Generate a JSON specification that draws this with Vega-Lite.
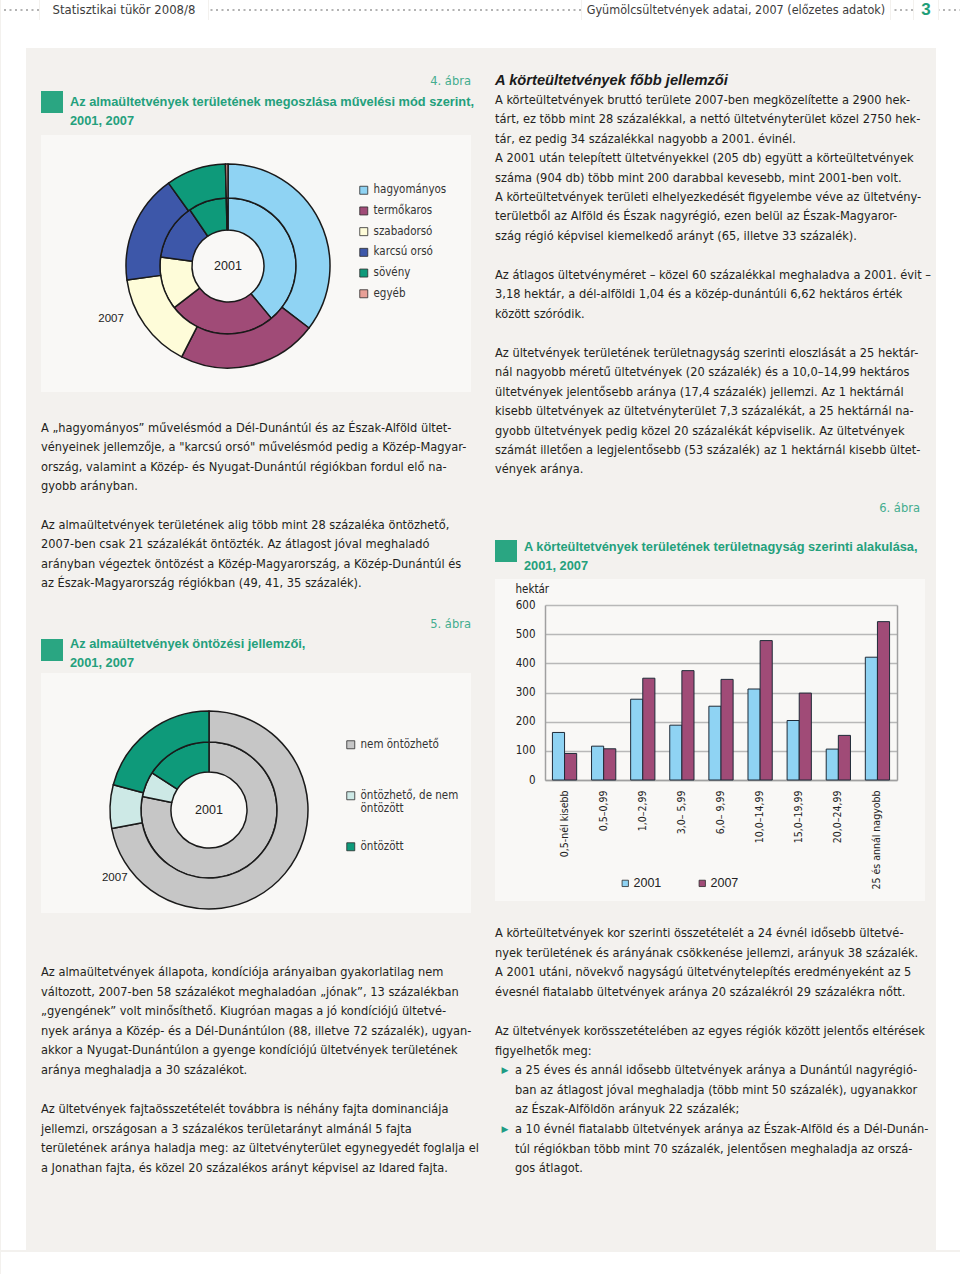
{
"$schema": "https://vega.github.io/schema/vega-lite/v6.json",
"background": "#f3f1ee",
"padding": 0,
"data": {"values": [{}]},
"datasets": {
 "mod": [
  {"year":"2001","mod":"hagyományos","k":1,"pct":39.0},
  {"year":"2001","mod":"termőkaros","k":2,"pct":25.5},
  {"year":"2001","mod":"szabadorsó","k":3,"pct":12.6},
  {"year":"2001","mod":"karcsú orsó","k":4,"pct":13.4},
  {"year":"2001","mod":"sövény","k":5,"pct":9.1},
  {"year":"2001","mod":"egyéb","k":6,"pct":0.4},
  {"year":"2007","mod":"hagyományos","k":1,"pct":35.4},
  {"year":"2007","mod":"termőkaros","k":2,"pct":22.1},
  {"year":"2007","mod":"szabadorsó","k":3,"pct":15.3},
  {"year":"2007","mod":"karcsú orsó","k":4,"pct":17.3},
  {"year":"2007","mod":"sövény","k":5,"pct":9.5},
  {"year":"2007","mod":"egyéb","k":6,"pct":0.4}
 ],
 "irr": [
  {"year":"2001","kat":"nem öntözhető","k":1,"pct":78.2},
  {"year":"2001","kat":"öntözhető, de nem öntözött","k":2,"pct":6.0},
  {"year":"2001","kat":"öntözött","k":3,"pct":15.8},
  {"year":"2007","kat":"nem öntözhető","k":1,"pct":72.0},
  {"year":"2007","kat":"öntözhető, de nem öntözött","k":2,"pct":7.1},
  {"year":"2007","kat":"öntözött","k":3,"pct":20.9}
 ],
 "korte": [
  {"cat":"0,5-nél kisebb","year":"2001","ha":163},
  {"cat":"0,5-nél kisebb","year":"2007","ha":91},
  {"cat":"0,5–0,99","year":"2001","ha":116},
  {"cat":"0,5–0,99","year":"2007","ha":107},
  {"cat":"1,0–2,99","year":"2001","ha":277},
  {"cat":"1,0–2,99","year":"2007","ha":349},
  {"cat":"3,0– 5,99","year":"2001","ha":188},
  {"cat":"3,0– 5,99","year":"2007","ha":375},
  {"cat":"6,0– 9,99","year":"2001","ha":253},
  {"cat":"6,0– 9,99","year":"2007","ha":345},
  {"cat":"10,0–14,99","year":"2001","ha":312},
  {"cat":"10,0–14,99","year":"2007","ha":478},
  {"cat":"15,0–19,99","year":"2001","ha":204},
  {"cat":"15,0–19,99","year":"2007","ha":298},
  {"cat":"20,0–24,99","year":"2001","ha":106},
  {"cat":"20,0–24,99","year":"2007","ha":153},
  {"cat":"25 és annál nagyobb","year":"2001","ha":421},
  {"cat":"25 és annál nagyobb","year":"2007","ha":543}
 ]
},
"config": {"view": {"stroke": null}, "concat": {"spacing": 0}, "text": {"font": "DejaVu Sans Condensed, sans-serif"}},
"resolve": {"scale": {"color": "independent", "theta": "independent"}},
"vconcat": [
 {"hconcat": [
  {"width": 38, "height": 20, "view": {"fill": "#ffffff"}, "mark": {"type": "rule", "color": "#b3b3b3", "strokeWidth": 2, "strokeDash": [2, 3.5]}, "encoding": {"y": {"datum": 0, "type": "quantitative", "scale": {"domain": [-1, 1]}, "axis": null}}},
  {"width": 168, "height": 20, "view": {"fill": "#ffffff"}, "mark": {"type": "text", "fontSize": 13, "color": "#3c3c3c"}, "encoding": {"text": {"value": "Statisztikai tükör 2008/8"}}},
  {"width": 372, "height": 20, "view": {"fill": "#ffffff"}, "mark": {"type": "rule", "color": "#b3b3b3", "strokeWidth": 2, "strokeDash": [2, 3.5]}, "encoding": {"y": {"datum": 0, "type": "quantitative", "scale": {"domain": [-1, 1]}, "axis": null}}},
  {"width": 308, "height": 20, "view": {"fill": "#ffffff"}, "mark": {"type": "text", "fontSize": 12.5, "color": "#3c3c3c"}, "encoding": {"text": {"value": "Gyümölcsültetvények adatai, 2007 (előzetes adatok)"}}},
  {"width": 22, "height": 20, "view": {"fill": "#ffffff"}, "mark": {"type": "rule", "color": "#b3b3b3", "strokeWidth": 2, "strokeDash": [2, 3.5]}, "encoding": {"y": {"datum": 0, "type": "quantitative", "scale": {"domain": [-1, 1]}, "axis": null}}},
  {"width": 24, "height": 20, "view": {"fill": "#ffffff"}, "mark": {"type": "text", "fontSize": 17, "fontWeight": "bold", "font": "Liberation Sans, sans-serif", "color": "#1f9e78"}, "encoding": {"text": {"value": "3"}}},
  {"width": 28, "height": 20, "view": {"fill": "#ffffff"}, "mark": {"type": "rule", "color": "#b3b3b3", "strokeWidth": 2, "strokeDash": [2, 3.5]}, "encoding": {"y": {"datum": 0, "type": "quantitative", "scale": {"domain": [-1, 1]}, "axis": null}}}
 ]},
 {"width": 960, "height": 28, "view": {"fill": "#ffffff"}, "mark": {"type": "point", "size": 0, "opacity": 0, "filled": true}},
 {"hconcat": [
  {"width": 25, "height": 1202, "view": {"fill": "#ffffff"}, "mark": {"type": "point", "size": 0, "opacity": 0, "filled": true}},
  {"width": 15, "height": 1202, "mark": {"type": "point", "size": 0, "opacity": 0, "filled": true}},
  {"vconcat": [
   {"width": 430, "height": 25, "mark": {"type": "point", "size": 0, "opacity": 0, "filled": true}},
   {"width": 430, "height": 16, "mark": {"type": "text", "align": "right", "fontSize": 12.8, "color": "#44ad8e"}, "encoding": {"x": {"datum": 1, "type": "quantitative", "scale": {"domain": [0, 1], "nice": false}, "axis": null}, "text": {"value": "4. ábra"}}},
   {"width": 430, "height": 2, "mark": {"type": "point", "size": 0, "opacity": 0, "filled": true}},
   {"hconcat": [
    {"vconcat": [
     {"width": 22, "height": 22, "view": {"fill": "#2aa682"}, "mark": {"type": "point", "size": 0, "opacity": 0, "filled": true}},
     {"width": 22, "height": 16, "mark": {"type": "point", "size": 0, "opacity": 0, "filled": true}}
    ]},
    {"width": 7, "height": 38, "mark": {"type": "point", "size": 0, "opacity": 0, "filled": true}},
    {"width": 425, "height": 38, "mark": {"type": "text", "align": "left", "baseline": "line-top", "lineBreak": "\n", "lineHeight": 19, "fontSize": 12.8, "fontWeight": "bold", "font": "Liberation Sans, sans-serif", "color": "#24a07c", "dy": 1.5}, "encoding": {"x": {"datum": 0, "type": "quantitative", "scale": {"domain": [0, 1], "nice": false}, "axis": null}, "y": {"datum": 1, "type": "quantitative", "scale": {"domain": [0, 1], "nice": false}, "axis": null}, "text": {"value": "Az almaültetvények területének megoszlása művelési mód szerint,\n2001, 2007"}}}
   ]},
   {"width": 430, "height": 6, "mark": {"type": "point", "size": 0, "opacity": 0, "filled": true}},
   {"hconcat": [
    {"width": 57, "height": 257, "view": {"fill": "#f9f8f6", "stroke": null}, "mark": {"type": "point", "size": 0, "opacity": 0, "filled": true}},
    {"vconcat": [
     {"width": 260, "height": 27, "view": {"fill": "#f9f8f6", "stroke": null}, "mark": {"type": "point", "size": 0, "opacity": 0, "filled": true}},
     {"width": 260, "height": 208, "view": {"fill": "#f9f8f6", "stroke": null}, "data": {"name": "mod"},
      "layer": [
       {"transform": [{"filter": "datum.year == '2001'"}], "mark": {"type": "arc", "outerRadius": 68, "innerRadius": 36, "stroke": "#1a1a1a", "strokeWidth": 1.5, "strokeJoin": "round"},
        "encoding": {"theta": {"field": "pct", "type": "quantitative", "stack": true}, "order": {"field": "k", "type": "quantitative"}, "color": {"field": "mod", "type": "nominal", "scale": {"domain": ["hagyományos","termőkaros","szabadorsó","karcsú orsó","sövény","egyéb"], "range": ["#8fd3f3","#a04b77","#fefcd9","#3d57a9","#0e9a7a","#e8a097"]}, "legend": null}}},
       {"transform": [{"filter": "datum.year == '2007'"}], "mark": {"type": "arc", "outerRadius": 102, "innerRadius": 68, "stroke": "#1a1a1a", "strokeWidth": 1.5, "strokeJoin": "round"},
        "encoding": {"theta": {"field": "pct", "type": "quantitative", "stack": true}, "order": {"field": "k", "type": "quantitative"}, "color": {"field": "mod", "type": "nominal", "scale": {"domain": ["hagyományos","termőkaros","szabadorsó","karcsú orsó","sövény","egyéb"], "range": ["#8fd3f3","#a04b77","#fefcd9","#3d57a9","#0e9a7a","#e8a097"]}, "legend": null}}},
       {"data": {"values": [{"lab": "2001"}]}, "mark": {"type": "text", "fontSize": 12.5, "font": "Liberation Sans, sans-serif", "color": "#222222"}, "encoding": {"text": {"field": "lab"}}},
       {"data": {"values": [{"lab": "2007"}]}, "mark": {"type": "text", "fontSize": 11.5, "font": "Liberation Sans, sans-serif", "color": "#222222", "radius": 128.4, "theta": 4.287}, "encoding": {"text": {"field": "lab"}}}
      ],
      "resolve": {"scale": {"theta": "independent"}}},
     {"width": 260, "height": 22, "view": {"fill": "#f9f8f6", "stroke": null}, "mark": {"type": "point", "size": 0, "opacity": 0, "filled": true}}
    ], "resolve": {"scale": {"color": "independent", "theta": "independent"}}},
    {"width": 113, "height": 257, "view": {"fill": "#f9f8f6", "stroke": null}, "data": {"name": "mod"}, "transform": [{"filter": "datum.year == '2001'"}],
     "mark": {"type": "point", "shape": "square", "filled": true, "size": 0, "opacity": 0},
     "encoding": {"color": {"field": "mod", "type": "nominal", "scale": {"domain": ["hagyományos","termőkaros","szabadorsó","karcsú orsó","sövény","egyéb"], "range": ["#8fd3f3","#a04b77","#fefcd9","#3d57a9","#0e9a7a","#e8a097"]},
      "legend": {"orient": "none", "legendX": 0, "legendY": 49.5, "title": null, "symbolType": "square", "symbolSize": 64, "symbolOpacity": 1, "symbolStrokeColor": "#2b2b2b", "symbolStrokeWidth": 0.8, "labelFont": "DejaVu Sans Condensed, sans-serif", "labelFontSize": 11.5, "labelColor": "#333333", "labelOffset": 4, "rowPadding": 7.7, "padding": 0}}}}
   ], "resolve": {"scale": {"color": "independent", "theta": "independent"}}},
   {"width": 430, "height": 30, "mark": {"type": "point", "size": 0, "opacity": 0, "filled": true}},
   {"width": 454, "height": 96.75, "data": {"values": [{"t": "A „hagyományos” művelésmód a Dél-Dunántúl és az Észak-Alföld ültet-\nvényeinek jellemzője, a \"karcsú orsó\" művelésmód pedig a Közép-Magyar-\nország, valamint a Közép- és Nyugat-Dunántúl régiókban fordul elő na-\ngyobb arányban."}]},
    "mark": {"type": "text", "align": "left", "baseline": "top", "lineBreak": "\n", "lineHeight": 19.35, "fontSize": 12.7, "color": "#231f20"},
    "encoding": {"x": {"datum": 0, "type": "quantitative", "scale": {"domain": [0, 1], "nice": false}, "axis": null}, "y": {"datum": 1, "type": "quantitative", "scale": {"domain": [0, 1], "nice": false}, "axis": null}, "text": {"field": "t"}}},
   {"width": 454, "height": 81.25, "data": {"values": [{"t": "Az almaültetvények területének alig több mint 28 százaléka öntözhető,\n2007-ben csak 21 százalékát öntözték. Az átlagost jóval meghaladó\narányban végeztek öntözést a Közép-Magyarország, a Közép-Dunántúl és\naz Észak-Magyarország régiókban (49, 41, 35 százalék)."}]},
    "mark": {"type": "text", "align": "left", "baseline": "top", "lineBreak": "\n", "lineHeight": 19.35, "fontSize": 12.7, "color": "#231f20"},
    "encoding": {"x": {"datum": 0, "type": "quantitative", "scale": {"domain": [0, 1], "nice": false}, "axis": null}, "y": {"datum": 1, "type": "quantitative", "scale": {"domain": [0, 1], "nice": false}, "axis": null}, "text": {"field": "t"}}},
   {"width": 430, "height": 15, "mark": {"type": "point", "size": 0, "opacity": 0, "filled": true}},
   {"width": 430, "height": 16, "mark": {"type": "text", "align": "right", "fontSize": 12.8, "color": "#44ad8e"}, "encoding": {"x": {"datum": 1, "type": "quantitative", "scale": {"domain": [0, 1], "nice": false}, "axis": null}, "text": {"value": "5. ábra"}}},
   {"width": 430, "height": 3, "mark": {"type": "point", "size": 0, "opacity": 0, "filled": true}},
   {"hconcat": [
    {"vconcat": [
     {"width": 22, "height": 4, "mark": {"type": "point", "size": 0, "opacity": 0, "filled": true}},
     {"width": 22, "height": 22, "view": {"fill": "#2aa682"}, "mark": {"type": "point", "size": 0, "opacity": 0, "filled": true}},
     {"width": 22, "height": 12, "mark": {"type": "point", "size": 0, "opacity": 0, "filled": true}}
    ]},
    {"width": 7, "height": 38, "mark": {"type": "point", "size": 0, "opacity": 0, "filled": true}},
    {"width": 425, "height": 38, "mark": {"type": "text", "align": "left", "baseline": "line-top", "lineBreak": "\n", "lineHeight": 19, "fontSize": 12.8, "fontWeight": "bold", "font": "Liberation Sans, sans-serif", "color": "#24a07c"}, "encoding": {"x": {"datum": 0, "type": "quantitative", "scale": {"domain": [0, 1], "nice": false}, "axis": null}, "y": {"datum": 1, "type": "quantitative", "scale": {"domain": [0, 1], "nice": false}, "axis": null}, "text": {"value": "Az almaültetvények öntözési jellemzői,\n2001, 2007"}}}
   ]},
   {"hconcat": [
    {"width": 58, "height": 240, "view": {"fill": "#f9f8f6", "stroke": null}, "mark": {"type": "point", "size": 0, "opacity": 0, "filled": true}},
    {"vconcat": [
     {"width": 220, "height": 36, "view": {"fill": "#f9f8f6", "stroke": null}, "mark": {"type": "point", "size": 0, "opacity": 0, "filled": true}},
     {"width": 220, "height": 202, "view": {"fill": "#f9f8f6", "stroke": null}, "data": {"name": "irr"},
      "layer": [
       {"transform": [{"filter": "datum.year == '2001'"}], "mark": {"type": "arc", "outerRadius": 68, "innerRadius": 38, "stroke": "#1a1a1a", "strokeWidth": 1.5, "strokeJoin": "round"},
        "encoding": {"theta": {"field": "pct", "type": "quantitative", "stack": true}, "order": {"field": "k", "type": "quantitative"}, "color": {"field": "kat", "type": "nominal", "scale": {"domain": ["nem öntözhető","öntözhető, de nem öntözött","öntözött"], "range": ["#c6c6c6","#cde9e6","#0e9a7a"]}, "legend": null}}},
       {"transform": [{"filter": "datum.year == '2007'"}], "mark": {"type": "arc", "outerRadius": 99, "innerRadius": 68, "stroke": "#1a1a1a", "strokeWidth": 1.5, "strokeJoin": "round"},
        "encoding": {"theta": {"field": "pct", "type": "quantitative", "stack": true}, "order": {"field": "k", "type": "quantitative"}, "color": {"field": "kat", "type": "nominal", "scale": {"domain": ["nem öntözhető","öntözhető, de nem öntözött","öntözött"], "range": ["#c6c6c6","#cde9e6","#0e9a7a"]}, "legend": null}}},
       {"data": {"values": [{"lab": "2001"}]}, "mark": {"type": "text", "fontSize": 12.5, "font": "Liberation Sans, sans-serif", "color": "#222222"}, "encoding": {"text": {"field": "lab"}}},
       {"data": {"values": [{"lab": "2007"}]}, "mark": {"type": "text", "fontSize": 11.5, "font": "Liberation Sans, sans-serif", "color": "#222222", "radius": 116, "theta": 4.09}, "encoding": {"text": {"field": "lab"}}}
      ],
      "resolve": {"scale": {"theta": "independent"}}},
     {"width": 220, "height": 2, "view": {"fill": "#f9f8f6", "stroke": null}, "mark": {"type": "point", "size": 0, "opacity": 0, "filled": true}}
    ], "resolve": {"scale": {"color": "independent", "theta": "independent"}}},
    {"width": 152, "height": 240, "view": {"fill": "#f9f8f6", "stroke": null}, "data": {"name": "irr"}, "transform": [{"filter": "datum.year == '2001'"}],
     "mark": {"type": "point", "shape": "square", "filled": true, "size": 0, "opacity": 0},
     "encoding": {"color": {"field": "kat", "type": "nominal", "scale": {"domain": ["nem öntözhető","öntözhető, de nem öntözött","öntözött"], "range": ["#c6c6c6","#cde9e6","#0e9a7a"]},
      "legend": {"orient": "none", "legendX": 26, "legendY": 66, "title": null, "symbolType": "square", "symbolSize": 64, "symbolOpacity": 1, "symbolStrokeColor": "#2b2b2b", "symbolStrokeWidth": 0.8, "labelFont": "DejaVu Sans Condensed, sans-serif", "labelFontSize": 11.5, "labelColor": "#333333", "labelOffset": 4, "rowPadding": 25, "padding": 0, "labelExpr": "datum.label == 'öntözhető, de nem öntözött' ? ['öntözhető, de nem', 'öntözött'] : [datum.label, ' ']"}}}}
   ], "resolve": {"scale": {"color": "independent", "theta": "independent"}}},
   {"width": 430, "height": 53, "mark": {"type": "point", "size": 0, "opacity": 0, "filled": true}},
   {"width": 454, "height": 136.5, "data": {"values": [{"t": "Az almaültetvények állapota, kondíciója arányaiban gyakorlatilag nem\nváltozott, 2007-ben 58 százalékot meghaladóan „jónak”, 13 százalékban\n„gyengének” volt minősíthető. Kiugróan magas a jó kondíciójú ültetvé-\nnyek aránya a Közép- és a Dél-Dunántúlon (88, illetve 72 százalék), ugyan-\nakkor a Nyugat-Dunántúlon a gyenge kondíciójú ültetvények területének\naránya meghaladja a 30 százalékot."}]},
    "mark": {"type": "text", "align": "left", "baseline": "top", "lineBreak": "\n", "lineHeight": 19.5, "fontSize": 12.7, "color": "#231f20"},
    "encoding": {"x": {"datum": 0, "type": "quantitative", "scale": {"domain": [0, 1], "nice": false}, "axis": null}, "y": {"datum": 1, "type": "quantitative", "scale": {"domain": [0, 1], "nice": false}, "axis": null}, "text": {"field": "t"}}},
   {"width": 454, "height": 83.5, "data": {"values": [{"t": "Az ültetvények fajtaösszetételét továbbra is néhány fajta dominanciája\njellemzi, országosan a 3 százalékos területarányt almánál 5 fajta\nterületének aránya haladja meg: az ültetvényterület egynegyedét foglalja el\na Jonathan fajta, és közel 20 százalékos arányt képvisel az Idared fajta."}]},
    "mark": {"type": "text", "align": "left", "baseline": "top", "lineBreak": "\n", "lineHeight": 19.5, "fontSize": 12.7, "color": "#231f20"},
    "encoding": {"x": {"datum": 0, "type": "quantitative", "scale": {"domain": [0, 1], "nice": false}, "axis": null}, "y": {"datum": 1, "type": "quantitative", "scale": {"domain": [0, 1], "nice": false}, "axis": null}, "text": {"field": "t"}}},
   {"width": 430, "height": 65, "mark": {"type": "point", "size": 0, "opacity": 0, "filled": true}}
  ], "resolve": {"scale": {"color": "independent", "theta": "independent"}}},
  {"vconcat": [
   {"width": 441, "height": 23, "mark": {"type": "point", "size": 0, "opacity": 0, "filled": true}},
   {"width": 441, "height": 19, "mark": {"type": "text", "align": "left", "fontSize": 14.7, "fontWeight": "bold", "fontStyle": "italic", "font": "Liberation Sans, sans-serif", "color": "#1a1a1a"}, "encoding": {"x": {"datum": 0, "type": "quantitative", "scale": {"domain": [0, 1], "nice": false}, "axis": null}, "text": {"value": "A körteültetvények főbb jellemzői"}}},
   {"width": 441, "height": 4, "mark": {"type": "point", "size": 0, "opacity": 0, "filled": true}},
   {"width": 441, "height": 174.6, "data": {"values": [{"t": "A körteültetvények bruttó területe 2007-ben megközelítette a 2900 hek-\ntárt, ez több mint 28 százalékkal, a nettó ültetvényterület közel 2750 hek-\ntár, ez pedig 34 százalékkal nagyobb a 2001. évinél.\nA 2001 után telepített ültetvényekkel (205 db) együtt a körteültetvények\nszáma (904 db) több mint 200 darabbal kevesebb, mint 2001-ben volt.\nA körteültetvények területi elhelyezkedését figyelembe véve az ültetvény-\nterületből az Alföld és Észak nagyrégió, ezen belül az Észak-Magyaror-\nszág régió képvisel kiemelkedő arányt (65, illetve 33 százalék)."}]},
    "mark": {"type": "text", "align": "left", "baseline": "top", "lineBreak": "\n", "lineHeight": 19.4, "fontSize": 12.7, "color": "#231f20"},
    "encoding": {"x": {"datum": 0, "type": "quantitative", "scale": {"domain": [0, 1], "nice": false}, "axis": null}, "y": {"datum": 1, "type": "quantitative", "scale": {"domain": [0, 1], "nice": false}, "axis": null}, "text": {"field": "t"}}},
   {"width": 441, "height": 77.6, "data": {"values": [{"t": "Az átlagos ültetvényméret – közel 60 százalékkal meghaladva a 2001. évit –\n3,18 hektár, a dél-alföldi 1,04 és a közép-dunántúli 6,62 hektáros érték\nközött szóródik."}]},
    "mark": {"type": "text", "align": "left", "baseline": "top", "lineBreak": "\n", "lineHeight": 19.4, "fontSize": 12.7, "color": "#231f20"},
    "encoding": {"x": {"datum": 0, "type": "quantitative", "scale": {"domain": [0, 1], "nice": false}, "axis": null}, "y": {"datum": 1, "type": "quantitative", "scale": {"domain": [0, 1], "nice": false}, "axis": null}, "text": {"field": "t"}}},
   {"width": 441, "height": 133.8, "data": {"values": [{"t": "Az ültetvények területének területnagyság szerinti eloszlását a 25 hektár-\nnál nagyobb méretű ültetvények (20 százalék) és a 10,0–14,99 hektáros\nültetvények jelentősebb aránya (17,4 százalék) jellemzi. Az 1 hektárnál\nkisebb ültetvények az ültetvényterület 7,3 százalékát, a 25 hektárnál na-\ngyobb ültetvények pedig közel 20 százalékát képviselik. Az ültetvények\nszámát illetően a legjelentősebb (53 százalék) az 1 hektárnál kisebb ültet-\nvények aránya."}]},
    "mark": {"type": "text", "align": "left", "baseline": "top", "lineBreak": "\n", "lineHeight": 19.4, "fontSize": 12.7, "color": "#231f20"},
    "encoding": {"x": {"datum": 0, "type": "quantitative", "scale": {"domain": [0, 1], "nice": false}, "axis": null}, "y": {"datum": 1, "type": "quantitative", "scale": {"domain": [0, 1], "nice": false}, "axis": null}, "text": {"field": "t"}}},
   {"width": 441, "height": 19, "mark": {"type": "point", "size": 0, "opacity": 0, "filled": true}},
   {"width": 425, "height": 16, "mark": {"type": "text", "align": "right", "fontSize": 12.8, "color": "#44ad8e"}, "encoding": {"x": {"datum": 1, "type": "quantitative", "scale": {"domain": [0, 1], "nice": false}, "axis": null}, "text": {"value": "6. ábra"}}},
   {"width": 441, "height": 22, "mark": {"type": "point", "size": 0, "opacity": 0, "filled": true}},
   {"hconcat": [
    {"vconcat": [
     {"width": 22, "height": 2, "mark": {"type": "point", "size": 0, "opacity": 0, "filled": true}},
     {"width": 22, "height": 22, "view": {"fill": "#2aa682"}, "mark": {"type": "point", "size": 0, "opacity": 0, "filled": true}},
     {"width": 22, "height": 17, "mark": {"type": "point", "size": 0, "opacity": 0, "filled": true}}
    ]},
    {"width": 7, "height": 41, "mark": {"type": "point", "size": 0, "opacity": 0, "filled": true}},
    {"width": 412, "height": 41, "mark": {"type": "text", "align": "left", "baseline": "line-top", "lineBreak": "\n", "lineHeight": 19, "fontSize": 12.8, "fontWeight": "bold", "font": "Liberation Sans, sans-serif", "color": "#24a07c"}, "encoding": {"x": {"datum": 0, "type": "quantitative", "scale": {"domain": [0, 1], "nice": false}, "axis": null}, "y": {"datum": 1, "type": "quantitative", "scale": {"domain": [0, 1], "nice": false}, "axis": null}, "text": {"value": "A körteültetvények területének területnagyság szerinti alakulása,\n2001, 2007"}}}
   ]},
   {"width": 430, "height": 322, "view": {"fill": "#f9f8f6", "stroke": null}, "data": {"name": "korte"},
    "layer": [
     {"mark": {"type": "bar", "stroke": "#1f2b38", "strokeWidth": 1},
      "encoding": {
       "x": {"field": "cat", "type": "nominal", "sort": null, "scale": {"range": [50, 402], "paddingInner": 0.38, "paddingOuter": 0.19},
             "axis": {"orient": "bottom", "offset": -121, "labelAngle": -90, "labelAlign": "right", "labelBaseline": "middle", "labelPadding": 10, "ticks": false, "domain": true, "domainColor": "#a0a0a0", "domainWidth": 1.5, "title": null, "grid": false, "labelFont": "DejaVu Sans Condensed, sans-serif", "labelFontSize": 10.5, "labelColor": "#222222"}},
       "xOffset": {"field": "year", "type": "nominal", "scale": {"paddingInner": 0}},
       "y": {"field": "ha", "type": "quantitative", "scale": {"domain": [0, 600], "range": [201, 26], "nice": false},
             "axis": {"orient": "left", "offset": -50, "values": [0, 100, 200, 300, 400, 500, 600], "ticks": false, "labelPadding": 10, "labelFont": "DejaVu Sans Condensed, sans-serif", "labelFontSize": 11.5, "labelColor": "#222222", "domain": true, "domainColor": "#a0a0a0", "domainWidth": 1.5, "grid": true, "gridColor": "#b8b8b8", "gridWidth": 1.5, "title": "hektár", "titleAngle": 0, "titleAlign": "left", "titleBaseline": "middle", "titleX": -30, "titleY": 10, "titleFont": "DejaVu Sans Condensed, sans-serif", "titleFontSize": 11.5, "titleFontWeight": "normal", "titleColor": "#222222"}},
       "color": {"field": "year", "type": "nominal", "scale": {"domain": ["2001", "2007"], "range": ["#8fd3f3", "#a04b77"]},
             "legend": {"orient": "none", "legendX": 124, "legendY": 298, "direction": "horizontal", "title": null, "symbolType": "square", "symbolSize": 40, "symbolStrokeColor": "#2b2b2b", "symbolStrokeWidth": 0.8, "labelFont": "Liberation Sans, sans-serif", "labelFontSize": 12.5, "labelColor": "#222222", "columnPadding": 34, "labelOffset": 2, "padding": 0}}
      }},
     {"data": {"values": [{}]}, "mark": {"type": "rule", "opacity": 0},
      "encoding": {"y": {"datum": 0, "type": "quantitative", "axis": {"orient": "right", "offset": -28, "domain": true, "domainColor": "#a0a0a0", "domainWidth": 1.5, "labels": false, "ticks": false, "grid": false, "title": null}}}}
    ],
    "resolve": {"axis": {"y": "independent"}}},
   {"width": 441, "height": 26, "mark": {"type": "point", "size": 0, "opacity": 0, "filled": true}},
   {"width": 441, "height": 97.5, "data": {"values": [{"t": "A körteültetvények kor szerinti összetételét a 24 évnél idősebb ültetvé-\nnyek területének és arányának csökkenése jellemzi, arányuk 38 százalék.\nA 2001 utáni, növekvő nagyságú ültetvénytelepítés eredményeként az 5\névesnél fiatalabb ültetvények aránya 20 százalékról 29 százalékra nőtt."}]},
    "mark": {"type": "text", "align": "left", "baseline": "top", "lineBreak": "\n", "lineHeight": 19.5, "fontSize": 12.7, "color": "#231f20"},
    "encoding": {"x": {"datum": 0, "type": "quantitative", "scale": {"domain": [0, 1], "nice": false}, "axis": null}, "y": {"datum": 1, "type": "quantitative", "scale": {"domain": [0, 1], "nice": false}, "axis": null}, "text": {"field": "t"}}},
   {"width": 441, "height": 39, "data": {"values": [{"t": "Az ültetvények korösszetételében az egyes régiók között jelentős eltérések\nfigyelhetők meg:"}]},
    "mark": {"type": "text", "align": "left", "baseline": "top", "lineBreak": "\n", "lineHeight": 19.5, "fontSize": 12.7, "color": "#231f20"},
    "encoding": {"x": {"datum": 0, "type": "quantitative", "scale": {"domain": [0, 1], "nice": false}, "axis": null}, "y": {"datum": 1, "type": "quantitative", "scale": {"domain": [0, 1], "nice": false}, "axis": null}, "text": {"field": "t"}}},
   {"hconcat": [
    {"width": 20, "height": 58.5, "mark": {"type": "text", "baseline": "top", "fontSize": 9, "font": "DejaVu Sans, sans-serif", "color": "#1e9c85", "dy": 2}, "encoding": {"y": {"datum": 1, "type": "quantitative", "scale": {"domain": [0, 1], "nice": false}, "axis": null}, "text": {"value": "▶"}}},
    {"width": 421, "height": 58.5, "data": {"values": [{"t": "a 25 éves és annál idősebb ültetvények aránya a Dunántúl nagyrégió-\nban az átlagost jóval meghaladja (több mint 50 százalék), ugyanakkor\naz Észak-Alföldön arányuk 22 százalék;"}]},
     "mark": {"type": "text", "align": "left", "baseline": "top", "lineBreak": "\n", "lineHeight": 19.5, "fontSize": 12.7, "color": "#231f20"},
     "encoding": {"x": {"datum": 0, "type": "quantitative", "scale": {"domain": [0, 1], "nice": false}, "axis": null}, "y": {"datum": 1, "type": "quantitative", "scale": {"domain": [0, 1], "nice": false}, "axis": null}, "text": {"field": "t"}}}
   ]},
   {"hconcat": [
    {"width": 20, "height": 59, "mark": {"type": "text", "baseline": "top", "fontSize": 9, "font": "DejaVu Sans, sans-serif", "color": "#1e9c85", "dy": 2}, "encoding": {"y": {"datum": 1, "type": "quantitative", "scale": {"domain": [0, 1], "nice": false}, "axis": null}, "text": {"value": "▶"}}},
    {"width": 421, "height": 59, "data": {"values": [{"t": "a 10 évnél fiatalabb ültetvények aránya az Észak-Alföld és a Dél-Dunán-\ntúl régiókban több mint 70 százalék, jelentősen meghaladja az orszá-\ngos átlagot."}]},
     "mark": {"type": "text", "align": "left", "baseline": "top", "lineBreak": "\n", "lineHeight": 19.5, "fontSize": 12.7, "color": "#231f20"},
     "encoding": {"x": {"datum": 0, "type": "quantitative", "scale": {"domain": [0, 1], "nice": false}, "axis": null}, "y": {"datum": 1, "type": "quantitative", "scale": {"domain": [0, 1], "nice": false}, "axis": null}, "text": {"field": "t"}}}
   ]},
   {"width": 441, "height": 70, "mark": {"type": "point", "size": 0, "opacity": 0, "filled": true}}
  ], "resolve": {"scale": {"color": "independent", "theta": "independent"}}},
  {"width": 25, "height": 1202, "view": {"fill": "#ffffff"}, "mark": {"type": "point", "size": 0, "opacity": 0, "filled": true}}
 ], "resolve": {"scale": {"color": "independent", "theta": "independent"}}},
 {"width": 960, "height": 24, "view": {"fill": "#ffffff"}, "mark": {"type": "point", "size": 0, "opacity": 0, "filled": true}}
]
}
